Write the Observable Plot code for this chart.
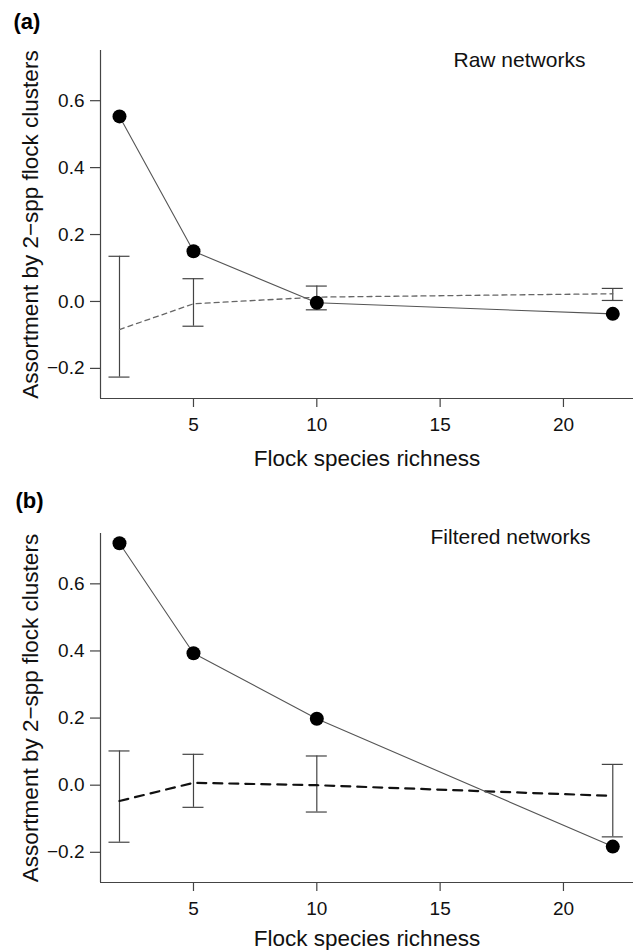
<!DOCTYPE html>
<html><head><meta charset="utf-8">
<script src="https://cdn.jsdelivr.net/npm/d3@7"></script>
<script src="https://cdn.jsdelivr.net/npm/@observablehq/plot@0.6"></script>
<style>body{margin:0;background:#fff} svg{display:block}</style>
</head><body><div id="chart"></div>
<script>
// Flock species richness categories
const richness = [2, 5, 10, 22];

// (a) Raw networks
const rawObserved = [0.553, 0.150, -0.004, -0.037];
const rawNullMean = [-0.084, -0.007, 0.013, 0.023];
const rawNullLo   = [-0.226, -0.074, -0.025, 0.003];
const rawNullHi   = [0.135, 0.068, 0.046, 0.039];

// (b) Filtered networks
const filtObserved = [0.721, 0.393, 0.198, -0.183];
const filtNullMean = [-0.047, 0.007, 0.000, -0.032];
const filtNullLo   = [-0.170, -0.066, -0.080, -0.154];
const filtNullHi   = [0.102, 0.092, 0.087, 0.062];

const xTicks = [5, 10, 15, 20];
const yTicks = [-0.2, 0.0, 0.2, 0.4, 0.6];
const xDomain = [1.23, 22.84];
const yDomain = [-0.29, 0.75];

const xLabel = "Flock species richness";
const yLabel = "Assortment by 2\u2212spp flock clusters";
const FONT = "'Liberation Sans', Arial, Helvetica, sans-serif";

function panel(o) {
  const rows = richness.map((x, i) => ({x, obs: o.obs[i], mean: o.mean[i], lo: o.lo[i], hi: o.hi[i]}));
  return Plot.plot({
    width: 636, height: o.height,
    marginLeft: 100, marginRight: 3, marginTop: o.marginTop, marginBottom: o.marginBottom,
    style: {fontFamily: FONT, background: "white", overflow: "visible", color: "#111"},
    x: {domain: xDomain},
    y: {domain: yDomain},
    marks: [
      Plot.ruleX([xDomain[0]], {stroke: "#444", strokeWidth: 1.2}),
      Plot.ruleY([yDomain[0]], {stroke: "#444", strokeWidth: 1.2}),
      Plot.axisX({ticks: xTicks, tickSize: 9, tickPadding: o.xTickPad, fontSize: 19, label: null, stroke: "#444", strokeWidth: 1.2}),
      Plot.axisY({ticks: yTicks, tickSize: 10, tickPadding: 6, fontSize: 19, label: null, stroke: "#444", strokeWidth: 1.2, tickFormat: d3.format(".1f")}),
      Plot.text([xLabel], {frameAnchor: "bottom", lineAnchor: "bottom", textAnchor: "middle", dy: o.xLabelDy, fontSize: 22.5, fill: "#111"}),
      Plot.text([yLabel], {frameAnchor: "left", lineAnchor: "bottom", textAnchor: "middle", rotate: -90, dx: -63, fontSize: 22.5, fill: "#111"}),
      Plot.text([o.letter], {frameAnchor: "top-left", lineAnchor: "bottom", textAnchor: "start", dx: o.letterDx, dy: o.letterDy, fontSize: 22, fontWeight: "bold", fill: "#000"}),
      Plot.text([o.title], {frameAnchor: "top-left", lineAnchor: "bottom", textAnchor: "start", dx: o.titleDx, dy: o.titleDy, fontSize: 21, fill: "#111"}),
      // null-model error bars
      Plot.ruleX(rows, {x: "x", y1: "lo", y2: "hi", stroke: "#444", strokeWidth: 1.2}),
      Plot.ruleY(rows, {x1: "x", x2: "x", y: "lo", insetLeft: -10.5, insetRight: -10.5, stroke: "#444", strokeWidth: 1.2}),
      Plot.ruleY(rows, {x1: "x", x2: "x", y: "hi", insetLeft: -10.5, insetRight: -10.5, stroke: "#444", strokeWidth: 1.2}),
      // null-model mean (dashed)
      Plot.line(rows, {x: "x", y: "mean", stroke: o.dashColor, strokeWidth: o.dashWidth, strokeDasharray: o.dash}),
      // observed
      Plot.line(rows, {x: "x", y: "obs", stroke: "#555", strokeWidth: 1.1}),
      Plot.dot(rows, {x: "x", y: "obs", r: 7, fill: "#000", stroke: "none"})
    ]
  });
}

const chart = document.getElementById("chart");
chart.append(panel({
  obs: rawObserved, mean: rawNullMean, lo: rawNullLo, hi: rawNullHi,
  letter: "(a)", title: "Raw networks",
  height: 475, marginTop: 50, marginBottom: 77,
  xTickPad: 10, xLabelDy: 67,
  letterDx: -87, letterDy: -21.5, titleDx: 353, titleDy: 16.5,
  dash: "5,4", dashWidth: 1.3, dashColor: "#666"
}));
chart.append(panel({
  obs: filtObserved, mean: filtNullMean, lo: filtNullLo, hi: filtNullHi,
  letter: "(b)", title: "Filtered networks",
  height: 475, marginTop: 58, marginBottom: 68,
  xTickPad: 10, xLabelDy: 63,
  letterDx: -85, letterDy: -25.5, titleDx: 330, titleDy: 10,
  dash: "9,7", dashWidth: 2.2, dashColor: "#111"
}));
</script></body></html>
